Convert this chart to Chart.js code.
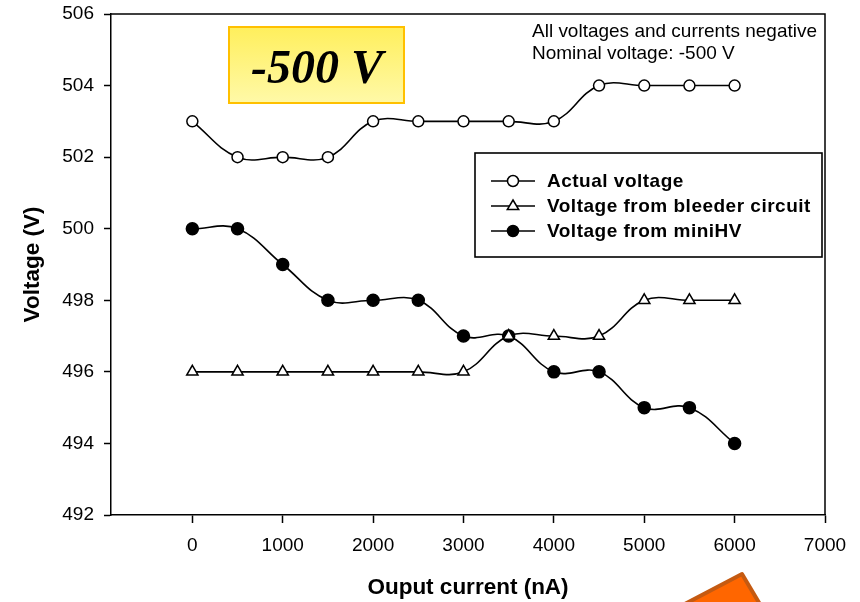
<!DOCTYPE html>
<html>
<head>
<meta charset="utf-8">
<script src="https://cdn.jsdelivr.net/npm/chart.js@4.4.1/dist/chart.umd.min.js"></script>
<style>
  html, body { margin: 0; padding: 0; background: #fff; }
</style>
</head>
<body>
<canvas id="chart" width="860" height="602"></canvas>
<script>
// values
const currents = [0, 500, 1000, 1500, 2000, 2500, 3000, 3500, 4000, 4500, 5000, 5500, 6000];
const actualVoltage = [503, 502, 502, 502, 503, 503, 503, 503, 503, 504, 504, 504, 504];
const bleederVoltage = [496, 496, 496, 496, 496, 496, 496, 497, 497, 497, 498, 498, 498];
const miniHVVoltage = [500, 500, 499, 498, 498, 498, 497, 497, 496, 496, 495, 495, 494];
const seriesLabels = ['Actual voltage', 'Voltage from bleeder circuit', 'Voltage from miniHV'];
const xTicks = [0, 1000, 2000, 3000, 4000, 5000, 6000, 7000];
const yTicks = [492, 494, 496, 498, 500, 502, 504, 506];
const noteLines = ['All voltages and currents negative', 'Nominal voltage: -500 V'];
const badgeText = '-500 V';

const FONT = '"Liberation Sans", Arial, sans-serif';

function pairs(ys) {
    return currents.map((x, i) => ({ x: x, y: ys[i] }));
}

function series(label, ys, style, fill, radius) {
    return {
        label: label,
        data: pairs(ys),
        borderColor: '#000',
        borderWidth: 1.6,
        tension: 0.4,
        pointStyle: style,
        pointRadius: radius,
        pointBackgroundColor: fill,
        pointBorderColor: '#000',
        pointBorderWidth: 1.5
    };
}

// marker for the legend rows, same look as the plotted points
function marker(ctx, style, fill, r, x, y) {
    ctx.beginPath();
    if (style === 'triangle') {
        ctx.moveTo(x, y - r);
        ctx.lineTo(x + r * 0.95, y + r * 0.6);
        ctx.lineTo(x - r * 0.95, y + r * 0.6);
        ctx.closePath();
    } else {
        ctx.arc(x, y, r, 0, Math.PI * 2);
    }
    ctx.fillStyle = fill;
    ctx.fill();
    ctx.lineWidth = 1.5;
    ctx.strokeStyle = '#000';
    ctx.stroke();
}

const overlay = {
    id: 'overlay',
    afterDraw(chart) {
        const ctx = chart.ctx;
        const a = chart.chartArea;
        ctx.save();

        // top and right frame lines
        ctx.strokeStyle = '#000';
        ctx.lineWidth = 1.5;
        ctx.beginPath();
        ctx.moveTo(a.left, a.top);
        ctx.lineTo(a.right, a.top);
        ctx.lineTo(a.right, a.bottom);
        ctx.stroke();

        // note in the top right corner
        ctx.fillStyle = '#000';
        ctx.font = '19px ' + FONT;
        ctx.textBaseline = 'alphabetic';
        ctx.textAlign = 'left';
        ctx.fillText(noteLines[0], 532, 37, 285);
        ctx.fillText(noteLines[1], 532, 59, 285);

        // legend box
        ctx.fillStyle = '#fff';
        ctx.fillRect(475, 153, 347, 104);
        ctx.lineWidth = 1.6;
        ctx.strokeRect(475, 153, 347, 104);
        const rows = [181, 206, 231];
        chart.data.datasets.forEach((ds, i) => {
            const y = rows[i];
            ctx.beginPath();
            ctx.moveTo(491, y);
            ctx.lineTo(535, y);
            ctx.lineWidth = 1.6;
            ctx.strokeStyle = '#000';
            ctx.stroke();
            marker(ctx, ds.pointStyle, ds.pointBackgroundColor, ds.pointStyle === 'triangle' ? 6 : 5.5, 513, y);
            ctx.fillStyle = '#000';
            ctx.font = 'bold 19px ' + FONT;
            ctx.letterSpacing = '0.5px';
            ctx.textBaseline = 'middle';
            ctx.fillText(ds.label, 547, y + 1);
            ctx.letterSpacing = '0px';
        });

        // yellow label box
        const g = ctx.createLinearGradient(0, 27, 0, 103);
        g.addColorStop(0, '#FFEF5C');
        g.addColorStop(1, '#FFF9A8');
        ctx.fillStyle = g;
        ctx.fillRect(229, 27, 175, 76);
        ctx.strokeStyle = '#FFC000';
        ctx.lineWidth = 2;
        ctx.strokeRect(229, 27, 175, 76);
        ctx.fillStyle = '#000';
        ctx.font = 'italic bold 48px "Liberation Serif", "Times New Roman", serif';
        ctx.textAlign = 'center';
        ctx.textBaseline = 'alphabetic';
        ctx.fillText(badgeText, 317, 83);

        // orange arrow tip at the bottom edge
        ctx.beginPath();
        ctx.moveTo(681, 606);
        ctx.lineTo(742, 574);
        ctx.lineTo(761, 606);
        ctx.closePath();
        ctx.fillStyle = '#FF6600';
        ctx.fill();
        ctx.lineJoin = 'round';
        ctx.lineWidth = 4;
        ctx.strokeStyle = '#C55A11';
        ctx.stroke();

        ctx.restore();
    }
};

const config = {
    type: 'line',
    data: {
        datasets: [
            series(seriesLabels[0], actualVoltage, 'circle', '#fff', 5.5),
            series(seriesLabels[1], bleederVoltage, 'triangle', '#fff', 6.5),
            series(seriesLabels[2], miniHVVoltage, 'circle', '#000', 6)
        ]
    },
    options: {
        responsive: false,
        animation: false,
        layout: { padding: { top: 14, right: 35, left: 0, bottom: 0 } },
        plugins: {
            legend: { display: false },
            tooltip: { enabled: false }
        },
        scales: {
            x: {
                type: 'linear',
                min: -900,
                max: 7000,
                afterBuildTicks: s => { s.ticks = xTicks.map(v => ({ value: v })); },
                afterFit: s => { s.height = 87; s.paddingLeft = 0; s.paddingRight = 0; },
                border: { color: '#000', width: 1.5 },
                grid: { drawOnChartArea: false, drawTicks: true, tickLength: 8, tickColor: '#000', tickWidth: 1.5 },
                ticks: { color: '#000', font: { family: FONT, size: 19 }, padding: 11, maxRotation: 0, callback: v => String(v) },
                title: {
                    display: true,
                    text: 'Ouput current (nA)',
                    color: '#000',
                    font: { family: FONT, size: 22.5, weight: 'bold' },
                    padding: { top: 0, bottom: 1 }
                }
            },
            y: {
                min: 492,
                max: 506,
                afterBuildTicks: s => { s.ticks = yTicks.map(v => ({ value: v })); },
                afterFit: s => { s.width = 111; s.paddingTop = 0; s.paddingBottom = 0; },
                border: { color: '#000', width: 1.5 },
                grid: { drawOnChartArea: false, drawTicks: true, tickLength: 7, tickColor: '#000', tickWidth: 1.5 },
                ticks: { color: '#000', font: { family: FONT, size: 19 }, padding: 10, callback: v => String(v) },
                title: {
                    display: true,
                    text: 'Voltage (V)',
                    color: '#000',
                    font: { family: FONT, size: 22.5, weight: 'bold' },
                    padding: { top: 19, bottom: 0 }
                }
            }
        }
    },
    plugins: [overlay]
};

window.onload = function () {
    const ctx = document.getElementById('chart').getContext('2d');
    window.myChart = new Chart(ctx, config);
};
</script>
</body>
</html>
